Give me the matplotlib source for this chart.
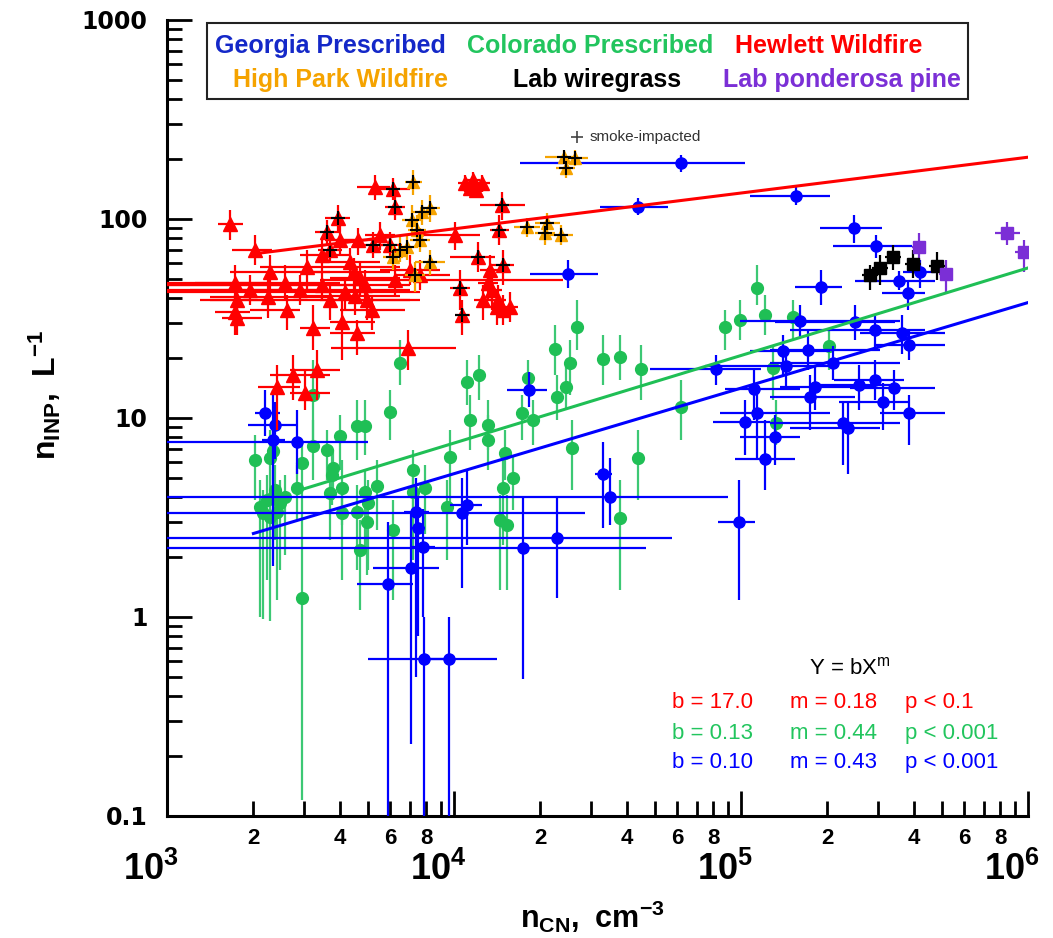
#!/usr/bin/env python3
"""INP vs CN number concentration for prescribed burns, wildfires and lab burns."""

from __future__ import annotations

import matplotlib

matplotlib.use("Agg")
import matplotlib.pyplot as plt
import numpy as np
from matplotlib.patches import Rectangle
from matplotlib.ticker import FixedFormatter, FixedLocator, NullFormatter
from matplotlib.transforms import offset_copy

# Georgia Prescribed (blue circles)
ga_x = [6.18e4, 4.38e4, 1.55e5, 2.5e4, 2.47e5, 2.95e5, 1.9e5, 3.55e5, 3.82e5, 4.2e5,
        1.6e5, 2.5e5, 2.93e5, 3.64e5, 3.85e5, 1.71e5, 1.4e5, 2.09e5, 1.43e5, 1.81e5,
        2.58e5, 2.93e5, 3.41e5, 1.74e5, 3.12e5, 3.85e5, 1.11e5, 1.14e5, 1.03e5, 1.31e5,
        2.27e5, 2.36e5, 1.21e5, 8.2e4, 9.8e4, 3.5e4, 3.3e4, 2.29e4, 1.74e4, 1.07e4,
        1.11e4, 2.19e3, 2.38e3, 2.84e3, 2.34e3, 1.82e4, 5.9e3, 7.1e3, 7.4e3, 7.5e3,
        7.8e3, 7.85e3, 9.6e3]
ga_y = [191, 115, 131, 53, 90, 73, 45.5, 49, 42.5, 54,
        30.7, 30.4, 27.7, 26.7, 23.3, 22, 21.7, 18.9, 18.2, 14.3,
        14.7, 15.5, 14.2, 12.8, 12, 10.6, 14, 10.6, 9.5, 8.0,
        9.4, 8.9, 6.2, 17.6, 3.0, 4.0, 5.2, 2.5, 2.22, 3.33,
        3.66, 10.6, 9.2, 7.6, 7.75, 13.8, 1.47, 1.76, 3.37, 2.8,
        2.25, 0.615, 0.615]
ga_xlo = [1.70e4, 3.23e4, 1.075e5, 1.84e4, 1.885e5, 2.09e5, 1.54e5, 2.5e5, 3.1e5, 3.67e5,
          9.9e4, 1.31e5, 1.48e5, 2.6e5, 2.93e5, 1.26e5, 1.075e5, 1.26e5, 7.5e4, 1.37e5,
          1.885e5, 2.1e5, 2.4e5, 1.26e5, 2.2e5, 3.05e5, 8.8e4, 8.45e4, 8.0e4, 9.9e4,
          1.26e5, 1.48e5, 9.5e4, 4.8e4, 8.3e4, 800, 3.1e4, 800, 800, 800,
          9.7e3, 2.03e3, 1.92e3, 800, 2.14e3, 1.53e4, 4.6e3, 5.2e3, 6.7e3, 7.0e3,
          7.1e3, 5.0e3, 7.85e3]
ga_xhi = [1.03e5, 5.57e4, 2.04e5, 3.18e4, 3.1e5, 3.95e5, 2.25e5, 4.74e5, 4.38e5, 4.74e5,
          3.58e5, 3.44e5, 4.38e5, 5.14e5, 5.14e5, 3.05e5, 2.04e5, 3.58e5, 2.04e5, 2.93e5,
          3.44e5, 3.7e5, 4.74e5, 2.5e5, 3.88e5, 5.14e5, 1.6e5, 2.04e5, 1.26e5, 1.6e5,
          3.58e5, 3.05e5, 1.54e5, 1.17e5, 1.12e5, 9.0e4, 3.55e4, 5.75e4, 4.66e4, 2.86e4,
          1.25e4, 2.48e3, 2.84e3, 5.0e3, 2.58e3, 2.11e4, 7.2e3, 8.9e3, 8.2e3, 7.9e3,
          8.6e3, 9.6e3, 1.41e4]
ga_ylo = [172, 105, 117, 45, 76, 64, 37, 44, 35, 45,
          25.5, 24.7, 22, 21, 19.5, 17.4, 16.4, 15.5, 14, 11,
          11, 12.3, 11, 8.7, 8.7, 7.3, 9.8, 6.2, 6.5, 5.8,
          5.8, 5.2, 4.35, 14.7, 1.22, 2.9, 2.8, 1.25, 0.49, 1.4,
          2.3, 8.1, 6.2, 5.2, 1.8, 11.4, 0.05, 0.23, 0.5, 0.8,
          1.0, 0.05, 0.05]
ga_yhi = [210, 127, 148, 62, 105, 83, 55.5, 55, 49, 62,
          37, 37, 33, 33, 28, 27.7, 26, 23, 22, 18.5,
          18.5, 19.5, 17.4, 16.4, 15, 13, 17.4, 14, 12.3, 10.4,
          12, 12, 9.8, 20.7, 4.9, 6.3, 7.6, 4.0, 4.0, 5.0,
          5.5, 13.8, 12, 11, 13.8, 17, 3.0, 3.4, 5.0, 4.0,
          3.5, 1.0, 1.0]

# Colorado Prescribed (green circles, y error only)
co_x = [6.48e3, 1.11e4, 1.22e4, 1.81e4, 3.23e3, 5.98e3, 1.14e4, 1.31e4, 1.73e4, 1.89e4,
        4.59e3, 4.89e3, 4.0e3, 1.31e4, 3.23e3, 3.61e3, 2.03e3, 2.29e3, 2.34e3, 2.95e3,
        3.79e3, 3.75e3, 1.51e4, 1.6e4, 9.69e3, 7.19e3, 2.84e3, 4.07e3, 3.7e3, 5.39e3,
        4.89e3, 7.19e3, 7.92e3, 1.48e4, 9.45e3, 5.01e3, 4.07e3, 4.59e3, 4.98e3, 6.13e3,
        1.45e4, 1.53e4, 4.7e3, 2.95e3, 2.11e3, 2.23e3, 2.34e3, 2.48e3, 2.58e3, 2.16e3,
        2.42e3, 2.29e3, 2.38e3, 1.14e5, 2.68e4, 2.25e4, 2.54e4, 3.3e4, 3.79e4, 4.48e4,
        8.8e4, 9.93e4, 1.21e5, 1.52e5, 2.02e5, 2.45e4, 2.29e4, 6.18e4, 2.58e4, 4.38e4,
        3.79e4, 1.32e5, 1.29e5]
co_y = [18.9, 15.2, 16.4, 15.9, 13.1, 10.7, 9.77, 9.22, 10.6, 9.77,
        9.12, 9.12, 8.12, 7.75, 7.23, 6.91, 6.15, 6.3, 6.83, 5.94,
        5.61, 5.17, 6.67, 4.99, 6.37, 5.48, 4.45, 4.45, 4.2, 4.55,
        4.25, 4.25, 4.45, 4.45, 3.57, 3.74, 3.33, 3.37, 3.0, 2.73,
        3.07, 2.9, 2.17, 1.25, 3.57, 3.87, 4.01, 3.74, 4.01, 3.33,
        3.37, 3.18, 4.35, 45, 28.6, 22.2, 18.9, 19.8, 20.3, 17.6,
        28.6, 31.1, 33, 32.2, 23, 14.3, 12.8, 11.4, 7.07, 6.3,
        3.14, 9.44, 17.8]
co_ylo = [14.7, 11.6, 12.3, 13.1, 7.75, 7.75, 6.91, 6.91, 7.75, 7.32,
          6.15, 6.52, 5.48, 5.48, 4.88, 4.88, 3.87, 4.35, 4.88, 3.87,
          3.87, 3.66, 4.88, 3.45, 3.45, 2.73, 3.07, 2.9, 2.44, 2.73,
          2.17, 1.93, 2.6, 2.3, 1.93, 1.72, 1.53, 1.72, 1.63, 1.22,
          1.37, 1.37, 1.08, 0.12, 1.0, 1.53, 1.93, 1.72, 2.05, 0.98,
          1.22, 0.95, 2.44, 37, 22, 16.4, 13.1, 14.7, 15.5, 12.3,
          22, 24.7, 26.1, 24.7, 17.4, 11.0, 9.77, 7.75, 4.35, 3.87,
          1.37, 7.32, 12.3]
co_yhi = [24.7, 19.5, 20.7, 19.5, 19.5, 13.8, 13.1, 12.3, 13.1, 12.3,
          12.3, 12.3, 10.4, 10.4, 9.77, 8.71, 8.2, 8.71, 9.77, 7.75,
          6.91, 6.52, 8.71, 6.52, 8.71, 6.91, 5.81, 6.15, 5.48, 6.15,
          5.48, 5.48, 5.81, 6.15, 4.88, 4.88, 4.1, 4.61, 4.1, 3.87,
          4.1, 4.1, 3.07, 3.87, 4.88, 5.17, 5.48, 4.88, 5.17, 4.35,
          4.61, 4.35, 5.81, 58.7, 39.2, 29.3, 24.7, 26.1, 26.1, 23.3,
          34.9, 39.2, 41.5, 39.2, 27.7, 18.5, 16.4, 15.5, 9.77, 8.71,
          4.88, 12.3, 23.3]

# Hewlett Wildfire (red triangles); smoke flag marks smoke-impacted samples
hw_x = [1.66e3, 2.03e3, 1.73e3, 1.75e3, 1.73e3, 1.75e3, 2.29e3, 2.25e3, 2.58e3, 2.62e3,
        3.07e3, 3.23e3, 3.33e3, 2.42e3, 2.75e3, 3.03e3, 4.07e3, 4.59e3, 6.9e3, 5.3e3,
        4.63e3, 5.52e3, 1.01e4, 1.09e4, 1.14e4, 1.19e4, 1.25e4, 1.16e4, 1.33e4, 1.31e4,
        1.36e4, 1.26e4, 1.41e4, 1.48e4, 1.57e4, 1.42e4, 4.34e3, 4.47e3, 4.7e3, 4.89e3,
        4.17e3, 4.52e3, 4.97e3, 5.18e3, 6.22e3, 7.02e3, 7.6e3, 3.46e3, 3.7e3, 2.91e3,
        1.95e3, 3.46e3, 4.0e3,
        3.94e3, 6.13e3, 6.22e3, 1.47e4, 1.43e4, 3.61e3, 3.7e3, 5.22e3, 5.98e3, 1.21e4,
        1.48e4, 1.05e4, 1.07e4]
hw_y = [94.4, 69.8, 47.6, 39.2, 34.1, 31.8, 54.2, 40.6, 47.6, 34.9,
        57.4, 28.3, 17.4, 14.3, 16.4, 13.4, 30.4, 26.7, 22.5, 145,
        78.4, 83.2, 83.2, 152, 143, 140, 152, 157, 55.5, 47.6,
        44, 39.2, 36.1, 34.9, 36.1, 39.2, 60.8, 54.2, 50.6, 46.6,
        43, 41.1, 39.2, 34.9, 49.4, 55.5, 52.4, 46.6, 39.2, 44,
        44, 65.9, 78.4,
        101, 142, 115, 117, 88.1, 86.1, 69.8, 74, 74, 64.4,
        58.7, 45, 33]
hw_xlo = [1.51e3, 1.68e3, 1.25e3, 1.41e3, 1.47e3, 1.56e3, 1.66e3, 1.41e3, 800, 1.95e3,
          2.11e3, 2.91e3, 2.68e3, 2.08e3, 2.29e3, 2.68e3, 3.7e3, 3.7e3, 3.74e3, 4.59e3,
          3.7e3, 4.89e3, 7.6e3, 1.03e4, 1.07e4, 1.12e4, 1.19e4, 1.09e4, 1.23e4, 1.21e4,
          1.25e4, 1.17e4, 1.33e4, 1.4e4, 1.47e4, 1.33e4, 3.41e3, 2.91e3, 3.7e3, 800,
          800, 2.91e3, 3.41e3, 4.0e3, 3.41e3, 5.52e3, 6.22e3, 800, 1.3e3, 1.2e3,
          800, 2.91e3, 3.55e3,
          3.55e3, 5.3e3, 5.75e3, 1.23e4, 1.33e4, 3.28e3, 3.36e3, 4.7e3, 5.45e3, 9.69e3,
          1.33e4, 9.69e3, 1.01e4]
hw_xhi = [1.84e3, 2.32e3, 2.29e3, 2.19e3, 1.95e3, 2.14e3, 3.7e3, 3.7e3, 4.0e3, 2.91e3,
          6.48e3, 3.7e3, 4.0e3, 2.91e3, 3.7e3, 3.7e3, 5.3e3, 5.3e3, 1.02e4, 5.98e3,
          5.75e3, 6.22e3, 1.23e4, 1.16e4, 1.21e4, 1.27e4, 1.33e4, 1.23e4, 1.45e4, 1.42e4,
          1.47e4, 1.37e4, 1.51e4, 1.59e4, 1.67e4, 1.52e4, 5.52e3, 5.98e3, 6.48e3, 7.02e3,
          7.6e3, 6.48e3, 7.6e3, 6.74e3, 2.4e4, 8.94e3, 9.69e3, 4.7e3, 7.02e3, 7.02e3,
          3.7e3, 4.34e3, 4.7e3,
          4.34e3, 7.02e3, 6.74e3, 1.77e4, 1.55e4, 4.0e3, 4.07e3, 5.75e3, 6.6e3, 1.39e4,
          1.62e4, 1.14e4, 1.14e4]
hw_ylo = [78.4, 58.7, 39.2, 31.1, 26.1, 26.1, 41.5, 31.8, 39.2, 27.7,
          44, 22, 12.3, 8.71, 12.3, 11, 19.5, 20.7, 17.4, 125,
          65.9, 69.8, 69.8, 137, 131, 127, 137, 143, 44, 39.2,
          34.9, 31.1, 29.3, 29.3, 30.4, 33, 49.4, 44, 41.5, 39.2,
          34.9, 33, 31.1, 27.7, 41.5, 46.6, 44, 39.2, 31.1, 37,
          37, 55.5, 65.9,
          86.1, 125, 98.8, 98.8, 74, 74, 60.8, 63.7, 63.7, 54.2,
          46.6, 34.9, 26.1]
hw_yhi = [111, 83.2, 58.7, 48.5, 41.5, 39.2, 65.9, 49.4, 58.7, 41.5,
          69.8, 37, 22, 18.5, 20.7, 17.4, 39.2, 31.1, 27.7, 166,
          90.2, 96.6, 96.6, 166, 157, 153, 166, 172, 65.9, 56.8,
          52.4, 46.6, 44, 41.5, 43, 46.6, 71.5, 63.7, 60.8, 55.5,
          50.4, 49.4, 46.6, 41.5, 58.7, 65.9, 62, 55.5, 46.6, 52.4,
          52.4, 78.4, 93.3,
          117, 161, 132, 137, 105, 98.8, 80.8, 86.1, 86.1, 76.9,
          69.8, 55.5, 39.2]
hw_smoke = [0] * 53 + [1] * 13

# High Park Wildfire (orange triangles, all smoke-impacted)
hp_x = [7.19e3, 7.73e3, 8.24e3, 7.13e3, 7.42e3, 6.48e3, 6.13e3, 6.85e3, 8.24e3, 7.3e3,
        2.42e4, 2.64e4, 2.45e4, 1.8e4, 2.11e4, 2.08e4, 2.36e4, 7.6e3]
hp_y = [153, 108, 114, 98.8, 88.1, 69.8, 64.4, 72.3, 60.8, 52.4,
        205, 203, 180, 91.2, 95.5, 85.1, 83.2, 78.4]
hp_xlo = [6.74e3, 7.13e3, 7.6e3, 6.6e3, 6.9e3, 5.98e3, 5.66e3, 6.37e3, 7.3e3, 6.74e3,
          2.08e4, 2.37e4, 2.27e4, 1.62e4, 1.92e4, 1.92e4, 2.16e4, 7.02e3]
hp_xhi = [7.73e3, 8.4e3, 8.94e3, 7.73e3, 8.0e3, 7.13e3, 6.64e3, 7.48e3, 9.3e3, 7.92e3,
          2.64e4, 2.92e4, 2.64e4, 2.0e4, 2.34e4, 2.25e4, 2.6e4, 8.24e3]
hp_ylo = [132, 93.3, 96.6, 83.2, 74, 60.8, 55.5, 62, 52.4, 43,
          188, 185, 161, 81.3, 83.2, 74, 74, 68.2]
hp_yhi = [176, 125, 132, 117, 105, 80.8, 74, 83.2, 69.8, 60.8,
          222, 222, 203, 101, 107, 96.6, 93.3, 90.2]

# Lab wiregrass (black squares)
lw_x = [2.82e5, 3.05e5, 3.39e5, 3.97e5, 4.82e5]
lw_y = [52.4, 56.8, 64.4, 59.4, 58.1]
lw_xlo = [2.64e5, 2.86e5, 3.18e5, 3.72e5, 4.52e5]
lw_xhi = [3.0e5, 3.25e5, 3.61e5, 4.24e5, 5.14e5]
lw_ylo = [44, 46.6, 55.5, 50.6, 49.4]
lw_yhi = [58.7, 65.9, 74, 69.8, 68.2]

# Lab ponderosa pine (purple squares)
lp_x = [4.17e5, 5.18e5, 8.45e5, 9.68e5]
lp_y = [72.3, 53, 85.1, 68.2]
lp_xlo = [3.95e5, 4.9e5, 7.67e5, 9.02e5]
lp_xhi = [4.41e5, 5.48e5, 9.4e5, 1.05e6]
lp_ylo = [58.7, 43, 74, 54.2]
lp_yhi = [85.1, 62, 96.6, 78.4]

# power-law fits Y = b X^m (red, green, blue)
fit_b = [17.0, 0.13, 0.10]
fit_m = [0.18, 0.44, 0.43]
fit_p = ["0.1", "0.001", "0.001"]
fit_xmin = [2.1e3, 2.9e3, 2.0e3]
fit_xmax = [1e6, 1e6, 1e6]

legend_rows = [["Georgia Prescribed", "Colorado Prescribed", "Hewlett Wildfire"],
               ["High Park Wildfire", "Lab wiregrass", "Lab ponderosa pine"]]

x_decades = [1e3, 1e4, 1e5, 1e6]
x_decade_exps = ["3", "4", "5", "6"]
y_major_ticks = [0.1, 1, 10, 100, 1000]
y_major_labels = ["0.1", "1", "10", "100", "1000"]

BLUE = "#0000ff"
GREEN = "#1fbf55"
GREEN_BAR = "#3cc874"
RED = "#ff0000"
ORANGE = "#f5a300"
PURPLE = "#7b2fd6"


def errbar(ax, x, y, xlo, xhi, ylo, yhi, color, marker, ms, zorder, ecolor=None):
    x = np.asarray(x, dtype=float)
    y = np.asarray(y, dtype=float)
    xerr = None
    if xlo is not None:
        xerr = np.vstack([x - np.asarray(xlo, float), np.asarray(xhi, float) - x])
    yerr = np.vstack([y - np.asarray(ylo, float), np.asarray(yhi, float) - y])
    ax.errorbar(x, y, xerr=xerr, yerr=yerr, fmt=marker, ms=ms, color=color,
                mfc=color, mec=color, ecolor=ecolor or color, elinewidth=1.6,
                capsize=0, zorder=zorder)


def main() -> None:
    plt.rcParams["font.family"] = "Liberation Sans"
    plt.rcParams["mathtext.fontset"] = "custom"
    plt.rcParams["mathtext.rm"] = "Liberation Sans"
    plt.rcParams["mathtext.bf"] = "Liberation Sans:bold"

    fig = plt.figure(figsize=(10.53, 9.38), dpi=100)
    ax = fig.add_axes([0.1586, 0.1301, 0.8177, 0.8486])
    ax.set_xscale("log")
    ax.set_yscale("log")

    errbar(ax, co_x, co_y, None, None, co_ylo, co_yhi, GREEN, "o", 8.5, 2, GREEN_BAR)
    errbar(ax, ga_x, ga_y, ga_xlo, ga_xhi, ga_ylo, ga_yhi, BLUE, "o", 8, 3)
    errbar(ax, hw_x, hw_y, hw_xlo, hw_xhi, hw_ylo, hw_yhi, RED, "^", 9.5, 4)
    errbar(ax, hp_x, hp_y, hp_xlo, hp_xhi, hp_ylo, hp_yhi, ORANGE, "^", 8.5, 5)
    errbar(ax, lw_x, lw_y, lw_xlo, lw_xhi, lw_ylo, lw_yhi, "black", "s", 9, 6)
    errbar(ax, lp_x, lp_y, lp_xlo, lp_xhi, lp_ylo, lp_yhi, PURPLE, "s", 9, 6)

    smoke = np.asarray(hw_smoke, bool)
    sx = np.concatenate([np.asarray(hw_x)[smoke], hp_x])
    sy = np.concatenate([np.asarray(hw_y)[smoke], hp_y])
    ax.plot(sx, sy, "+", color="black", ms=10, mew=1.5, zorder=6.5)

    for b, m, x0, x1, c in zip(fit_b, fit_m, fit_xmin, fit_xmax, [RED, GREEN, BLUE]):
        xs = np.array([x0, x1])
        ax.plot(xs, b * xs ** m, color=c, lw=2.2, zorder=7)

    ax.set_xlim(1e3, 1e6)
    ax.set_ylim(0.1, 1000)
    for side in ("top", "right"):
        ax.spines[side].set_visible(False)
    for side in ("left", "bottom"):
        ax.spines[side].set_linewidth(2.2)

    x_minor = [k * d for d in x_decades[:-1] for k in range(2, 10)]
    x_minor_labels = ["2", "", "4", "", "6", "", "8", ""] * 3
    ax.xaxis.set_major_locator(FixedLocator(x_decades))
    ax.xaxis.set_major_formatter(NullFormatter())
    ax.xaxis.set_minor_locator(FixedLocator(x_minor))
    ax.xaxis.set_minor_formatter(FixedFormatter(x_minor_labels))
    y_minor = [k * d for d in y_major_ticks[:-1] for k in range(2, 10)]
    ax.yaxis.set_major_locator(FixedLocator(y_major_ticks))
    ax.yaxis.set_major_formatter(FixedFormatter(y_major_labels))
    ax.yaxis.set_minor_locator(FixedLocator(y_minor))
    ax.yaxis.set_minor_formatter(NullFormatter())

    ax.tick_params(which="both", direction="in", width=2)
    ax.tick_params(which="major", length=18)
    ax.tick_params(which="minor", length=11)
    ax.tick_params(axis="x", which="minor", pad=9, labelsize=16)
    ax.tick_params(axis="y", which="major", pad=14, labelsize=17)
    for lbl in ax.get_yticklabels():
        lbl.set_fontfamily("DejaVu Sans")
        lbl.set_fontweight("bold")
    for lbl in ax.xaxis.get_minorticklabels():
        lbl.set_fontweight("bold")

    dec_tr = offset_copy(ax.get_xaxis_transform(), fig=fig, x=-16, y=-36, units="dots")
    for v, e in zip(x_decades, x_decade_exps):
        ax.text(v, 0, r"$\mathbf{10^{%s}}$" % e, transform=dec_tr, ha="center",
                va="top", fontsize=26)

    fig.text(45 / 1053, 1 - 395 / 938, r"$\mathbf{n_{INP},\ L^{-1}}$", rotation=90,
             ha="center", va="center", fontsize=23)
    fig.text(592 / 1053, 1 - 917 / 938, r"$\mathbf{n_{CN},\ cm^{-3}}$",
             ha="center", va="center", fontsize=22)

    # legend box with coloured labels
    ax.add_patch(Rectangle((0.0465, 0.901), 0.8835, 0.095, transform=ax.transAxes,
                           fill=False, lw=1.5, ec="#222222", clip_on=False, zorder=8))
    leg_colors = [["#1428c8", "#22c55e", RED], [ORANGE, "black", PURPLE]]
    leg_x = [[0.190, 0.491, 0.768], [0.201, 0.500, 0.784]]
    leg_y = [0.967, 0.925]
    for r, row in enumerate(legend_rows):
        for c, name in enumerate(row):
            ax.text(leg_x[r][c], leg_y[r], name, transform=ax.transAxes, ha="center",
                    va="center", fontsize=18, fontweight="bold",
                    color=leg_colors[r][c], zorder=9)

    ax.plot([0.476], [0.853], "+", color="#444444", ms=9, mew=1.2,
            transform=ax.transAxes, clip_on=False)
    ax.text(0.491, 0.853, "smoke-impacted", transform=ax.transAxes, ha="left",
            va="center", fontsize=11, color="#333333")

    ax.text(0.793, 0.186, "Y = bX$^{\\mathrm{m}}$", transform=ax.transAxes,
            ha="center", va="center", fontsize=16)
    row_y = [0.142, 0.104, 0.0666]
    for b, m, p, yy, c in zip(fit_b, fit_m, fit_p, row_y, [RED, "#22c55e", BLUE]):
        bs = f"{b:.1f}" if b >= 1 else f"{b:.2f}"
        ax.text(0.5865, yy, f"b = {bs}", transform=ax.transAxes, va="center",
                fontsize=16, color=c)
        ax.text(0.7236, yy, f"m = {m:.2f}", transform=ax.transAxes, va="center",
                fontsize=16, color=c)
        ax.text(0.857, yy, f"p < {p}", transform=ax.transAxes, va="center",
                fontsize=16, color=c)

    fig.savefig("out.png", dpi=100)


if __name__ == "__main__":
    main()
